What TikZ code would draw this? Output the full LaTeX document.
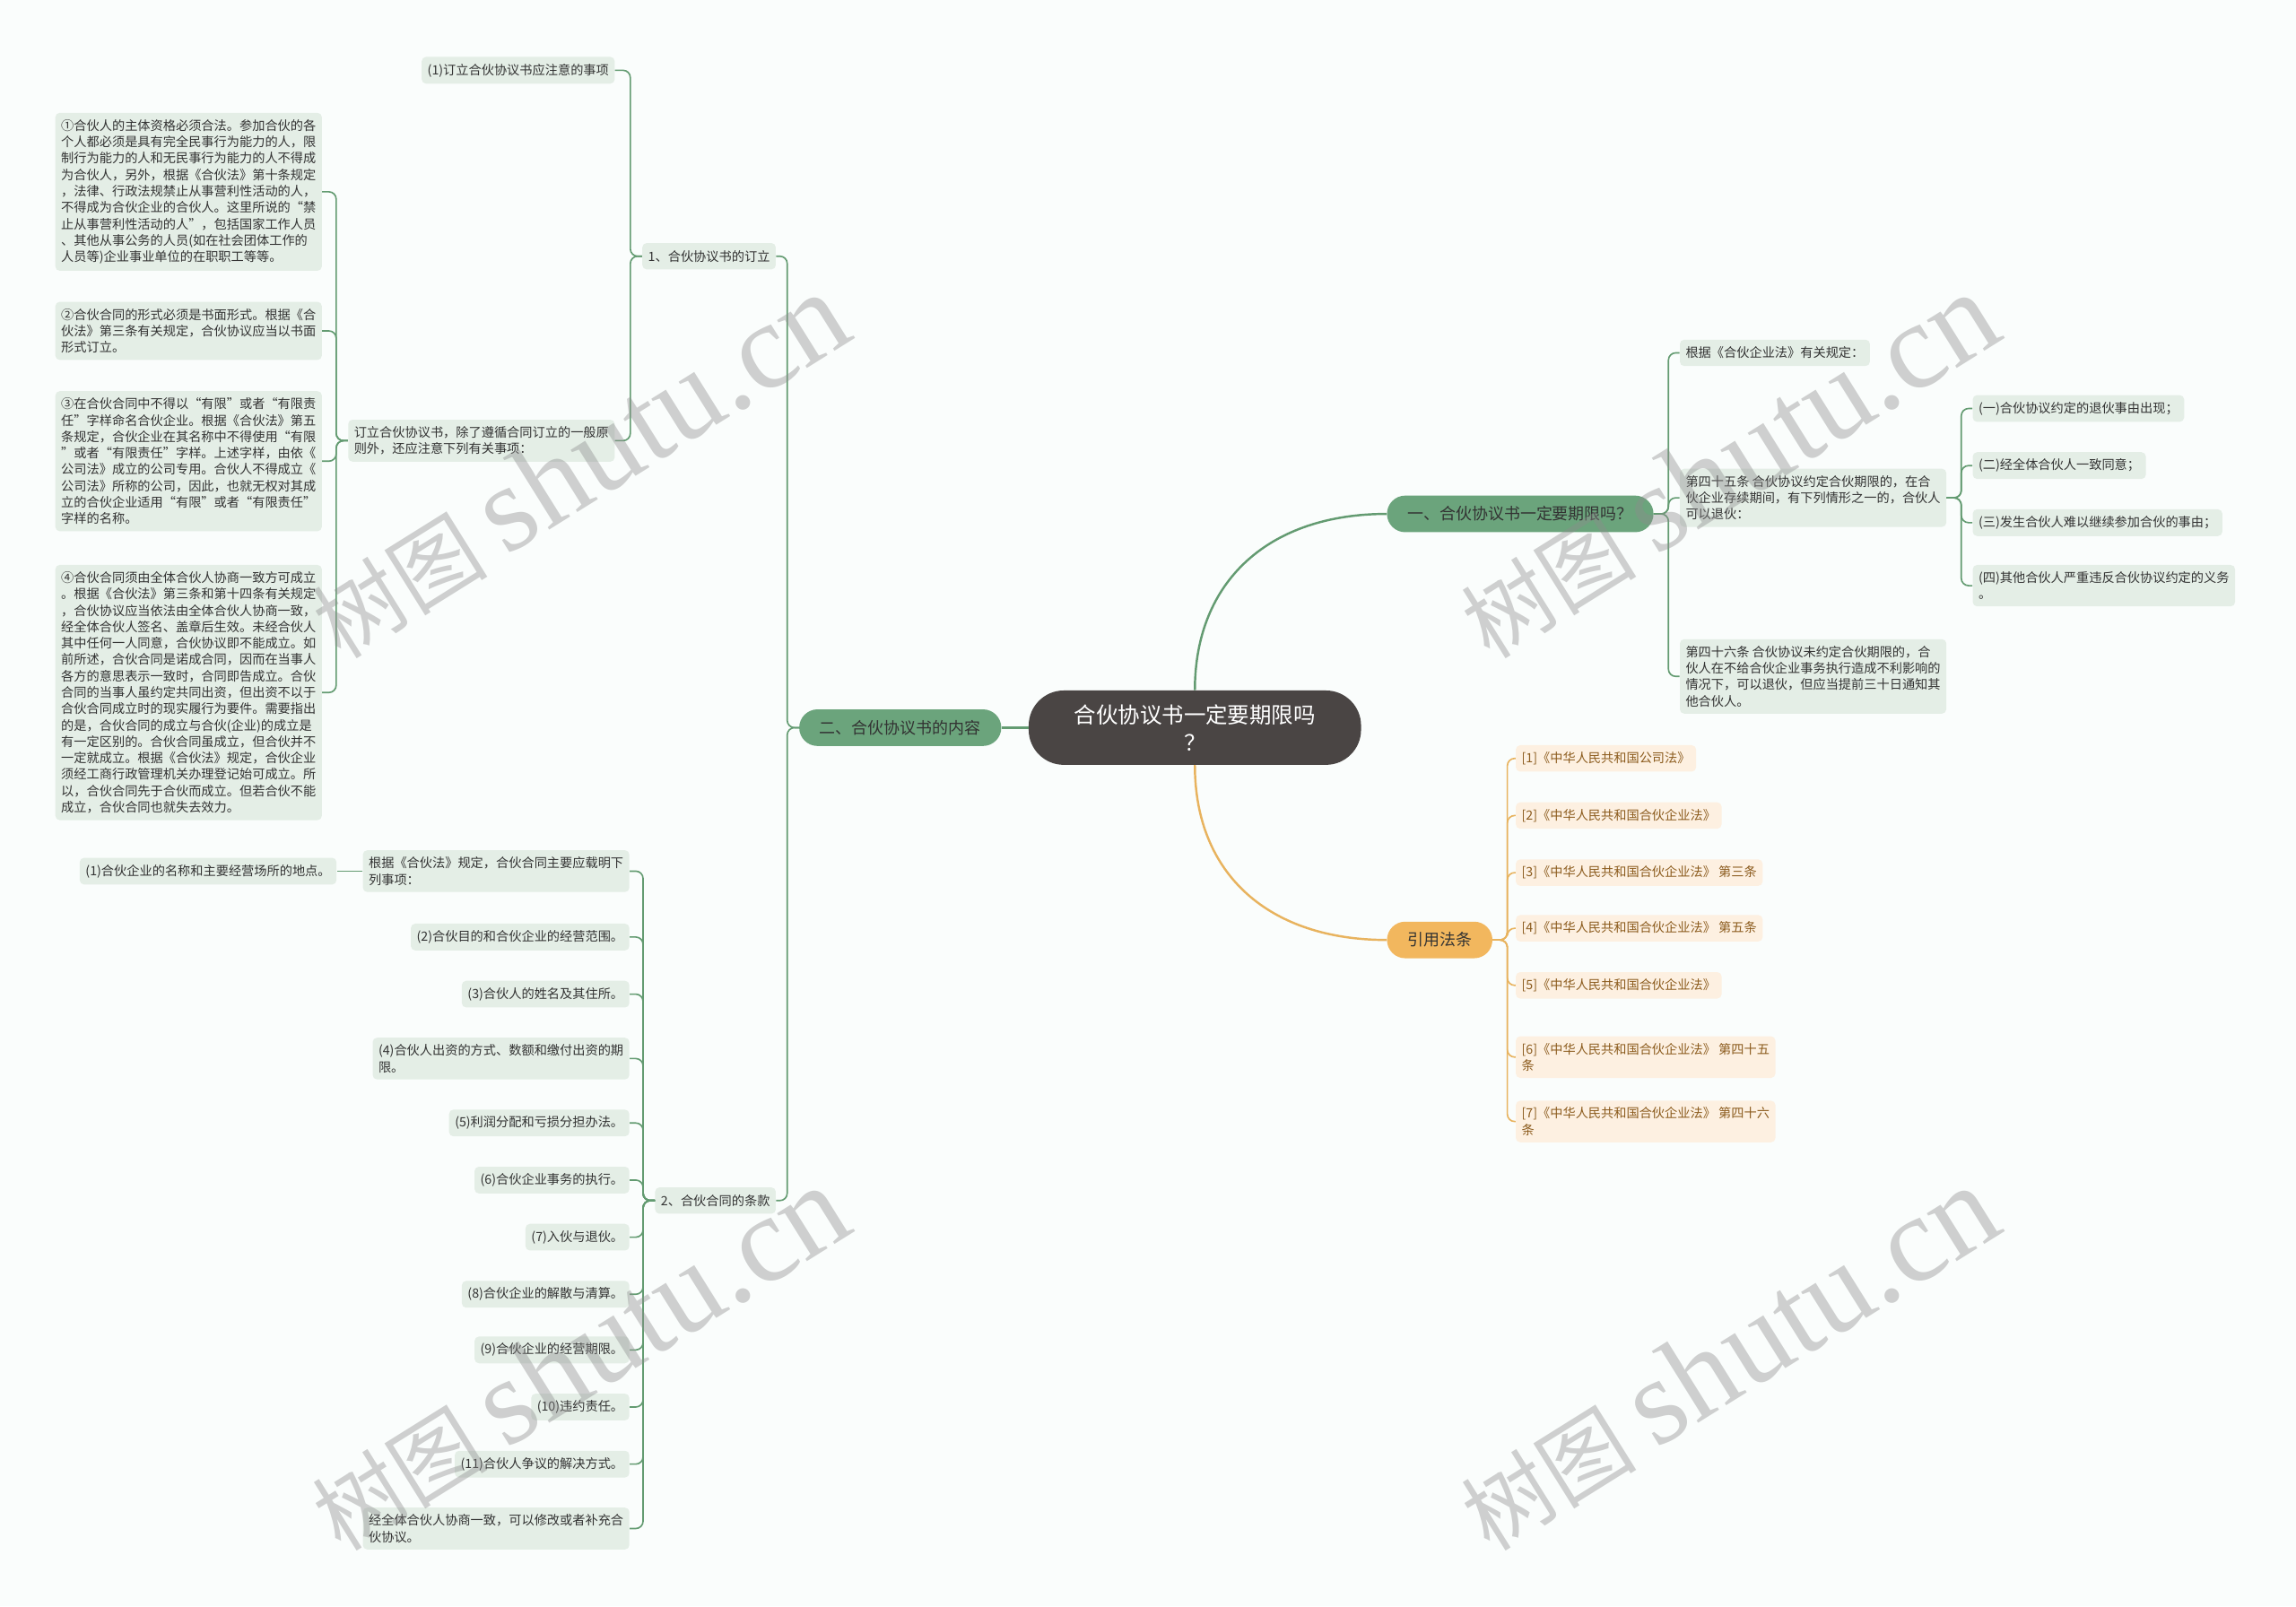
\documentclass[tikz,border=0pt]{standalone}
\usepackage{fontspec}
\setmainfont{Noto Sans CJK SC}
\newfontfamily\wmfont{Liberation Serif}
\definecolor{paper}{HTML}{FAFDFC}
\definecolor{coal}{HTML}{4A4544}
\definecolor{trunk}{HTML}{6BA47C}
\definecolor{twig}{HTML}{639B71}
\definecolor{leaf}{HTML}{E4EEE6}
\definecolor{ink}{HTML}{333333}
\definecolor{ochre}{HTML}{F2B75E}
\definecolor{ochreline}{HTML}{E8B35E}
\definecolor{cream}{HTML}{FDF0E1}
\definecolor{rust}{HTML}{8C5C1E}

\begin{document}
\begin{tikzpicture}[x=1pt,y=1pt,inner sep=0pt,
    hub/.style={fill=coal,text=white,rounded corners=24pt,inner xsep=31pt,inner ysep=9.5pt,align=center,font=\fontsize{15}{19}\selectfont},
    topic/.style={fill=trunk,text=ink,rounded corners=12.5pt,minimum height=25pt,inner xsep=14pt,font=\fontsize{11}{13}\selectfont},
    lawtopic/.style={topic,fill=ochre},
    card/.style={fill=leaf,text=ink,rounded corners=3pt,inner xsep=4pt,inner ysep=4.6pt,minimum height=18pt,align=left,font=\fontsize{8.7}{11.2}\selectfont},
    rcard/.style={card,anchor=west},
    lcard/.style={card,anchor=east},
    lawcard/.style={card,anchor=west,fill=cream,text=rust},
    rspine/.style={draw=twig,line width=1pt,rounded corners=5pt,to path={-- ++(10,0) |- (\tikztotarget)}},
    lspine/.style={draw=twig,line width=1pt,rounded corners=5pt,to path={-- ++(-8,0) |- (\tikztotarget)}},
    lawspine/.style={rspine,draw=ochreline},
    upbough/.style={draw=twig,line width=1.5pt,to path={.. controls +(0,75) and +(-80,0) .. (\tikztotarget)}},
    downbough/.style={draw=ochreline,line width=1.5pt,to path={.. controls +(0,-75) and +(-80,0) .. (\tikztotarget)}},
    wmark/.style={text=black!45,opacity=0.4,rotate=32,font=\fontsize{60}{60}\selectfont}]
\useasboundingbox (0,0) rectangle (1568,-1097);
\fill[paper] (0,0) rectangle (1568,-1097);
\node[hub] at (816,-497) (root) {合伙协议书一定要期限吗\\？};
        \node[topic,anchor=west] at (947,-351) (t_1) {一、合伙协议书一定要期限吗？};
        \node[topic,anchor=east] at (684,-497) (t_2) {二、合伙协议书的内容};
        \node[lawtopic,anchor=west] at (947,-642) (t_3) {引用法条};
        \node[rcard] at (1147,-241) (a_1) {根据《合伙企业法》有关规定：};
        \node[rcard] at (1147,-340) (a_2) {第四十五条 合伙协议约定合伙期限的，在合\\伙企业存续期间，有下列情形之一的，合伙人\\可以退伙：};
        \node[rcard] at (1147,-462) (a_3) {第四十六条 合伙协议未约定合伙期限的，合\\伙人在不给合伙企业事务执行造成不利影响的\\情况下，可以退伙，但应当提前三十日通知其\\他合伙人。};
        \node[rcard] at (1347,-279) (c_1) {(一)合伙协议约定的退伙事由出现；};
        \node[rcard] at (1347,-318) (c_2) {(二)经全体合伙人一致同意；};
        \node[rcard] at (1347,-357) (c_3) {(三)发生合伙人难以继续参加合伙的事由；};
        \node[rcard] at (1347,-400) (c_4) {(四)其他合伙人严重违反合伙协议约定的义务\\。};
        \node[lawcard] at (1035,-518) (l_1) {[1]《中华人民共和国公司法》};
        \node[lawcard] at (1035,-557) (l_2) {[2]《中华人民共和国合伙企业法》};
        \node[lawcard] at (1035,-596) (l_3) {[3]《中华人民共和国合伙企业法》 第三条};
        \node[lawcard] at (1035,-634) (l_4) {[4]《中华人民共和国合伙企业法》 第五条};
        \node[lawcard] at (1035,-673) (l_5) {[5]《中华人民共和国合伙企业法》};
        \node[lawcard] at (1035,-722) (l_6) {[6]《中华人民共和国合伙企业法》 第四十五\\条};
        \node[lawcard] at (1035,-766) (l_7) {[7]《中华人民共和国合伙企业法》 第四十六\\条};
        \node[lcard] at (530,-175) (d_1) {1、合伙协议书的订立};
        \node[lcard] at (530,-820) (d_2) {2、合伙合同的条款};
        \node[lcard] at (420,-48) (e_1) {(1)订立合伙协议书应注意的事项};
        \node[lcard] at (420,-301) (e_2) {订立合伙协议书，除了遵循合同订立的一般原\\则外，还应注意下列有关事项：};
        \node[lcard] at (220,-131) (f_1) {①合伙人的主体资格必须合法。参加合伙的各\\个人都必须是具有完全民事行为能力的人，限\\制行为能力的人和无民事行为能力的人不得成\\为合伙人，另外，根据《合伙法》第十条规定\\，法律、行政法规禁止从事营利性活动的人，\\不得成为合伙企业的合伙人。这里所说的“禁\\止从事营利性活动的人”，包括国家工作人员\\、其他从事公务的人员(如在社会团体工作的\\人员等)企业事业单位的在职职工等等。};
        \node[lcard] at (220,-226) (f_2) {②合伙合同的形式必须是书面形式。根据《合\\伙法》第三条有关规定，合伙协议应当以书面\\形式订立。};
        \node[lcard] at (220,-315) (f_3) {③在合伙合同中不得以“有限”或者“有限责\\任”字样命名合伙企业。根据《合伙法》第五\\条规定，合伙企业在其名称中不得使用“有限\\”或者“有限责任”字样。上述字样，由依《\\公司法》成立的公司专用。合伙人不得成立《\\公司法》所称的公司，因此，也就无权对其成\\立的合伙企业适用“有限”或者“有限责任”\\字样的名称。};
        \node[lcard] at (220,-473) (f_4) {④合伙合同须由全体合伙人协商一致方可成立\\。根据《合伙法》第三条和第十四条有关规定\\，合伙协议应当依法由全体合伙人协商一致，\\经全体合伙人签名、盖章后生效。未经合伙人\\其中任何一人同意，合伙协议即不能成立。如\\前所述，合伙合同是诺成合同，因而在当事人\\各方的意思表示一致时，合同即告成立。合伙\\合同的当事人虽约定共同出资，但出资不以于\\合伙合同成立时的现实履行为要件。需要指出\\的是，合伙合同的成立与合伙(企业)的成立是\\有一定区别的。合伙合同虽成立，但合伙并不\\一定就成立。根据《合伙法》规定，合伙企业\\须经工商行政管理机关办理登记始可成立。所\\以，合伙合同先于合伙而成立。但若合伙不能\\成立，合伙合同也就失去效力。};
        \node[lcard] at (430,-595) (g_1) {根据《合伙法》规定，合伙合同主要应载明下\\列事项：};
        \node[lcard] at (230,-595) (h_1) {(1)合伙企业的名称和主要经营场所的地点。};
        \node[lcard] at (430,-640) (g_2) {(2)合伙目的和合伙企业的经营范围。};
        \node[lcard] at (430,-679) (g_3) {(3)合伙人的姓名及其住所。};
        \node[lcard] at (430,-723) (g_4) {(4)合伙人出资的方式、数额和缴付出资的期\\限。};
        \node[lcard] at (430,-767) (g_5) {(5)利润分配和亏损分担办法。};
        \node[lcard] at (430,-806) (g_6) {(6)合伙企业事务的执行。};
        \node[lcard] at (430,-845) (g_7) {(7)入伙与退伙。};
        \node[lcard] at (430,-884) (g_8) {(8)合伙企业的解散与清算。};
        \node[lcard] at (430,-922) (g_9) {(9)合伙企业的经营期限。};
        \node[lcard] at (430,-961) (g_10) {(10)违约责任。};
        \node[lcard] at (430,-1000) (g_11) {(11)合伙人争议的解决方式。};
        \node[lcard] at (430,-1044) (g_12) {经全体合伙人协商一致，可以修改或者补充合\\伙协议。};
        \path
            (root.north) edge[upbough] (t_1.west)
            (root.south) edge[downbough] (t_3.west)
            (root.west) edge[draw=twig,line width=1.5pt] (t_2.east)
            (t_1.east) edge[rspine] (a_1.west)
                       edge[rspine] (a_2.west)
                       edge[rspine] (a_3.west)
            (a_2.east) edge[rspine] (c_1.west)
                       edge[rspine] (c_2.west)
                       edge[rspine] (c_3.west)
                       edge[rspine] (c_4.west)
            (t_3.east) edge[lawspine] (l_1.west)
                       edge[lawspine] (l_2.west)
                       edge[lawspine] (l_3.west)
                       edge[lawspine] (l_4.west)
                       edge[lawspine] (l_5.west)
                       edge[lawspine] (l_6.west)
                       edge[lawspine] (l_7.west)
            (t_2.west) edge[lspine] (d_1.east)
                       edge[lspine] (d_2.east)
            (d_1.west) edge[lspine] (e_1.east)
                       edge[lspine] (e_2.east)
            (e_2.west) edge[lspine] (f_1.east)
                       edge[lspine] (f_2.east)
                       edge[lspine] (f_3.east)
                       edge[lspine] (f_4.east)
            (g_1.west) edge[draw=twig,line width=1pt] (h_1.east);
        \foreach \k in {1,...,12}
            \path (d_2.west) edge[lspine] (g_\k.east);
        \foreach \p in {(395,-318),(1180,-318),(395,-928),(1180,-928)}
            \node[wmark] at \p {树图 {\wmfont\fontsize{84}{84}\selectfont shutu.cn}};
\end{tikzpicture}
\end{document}
